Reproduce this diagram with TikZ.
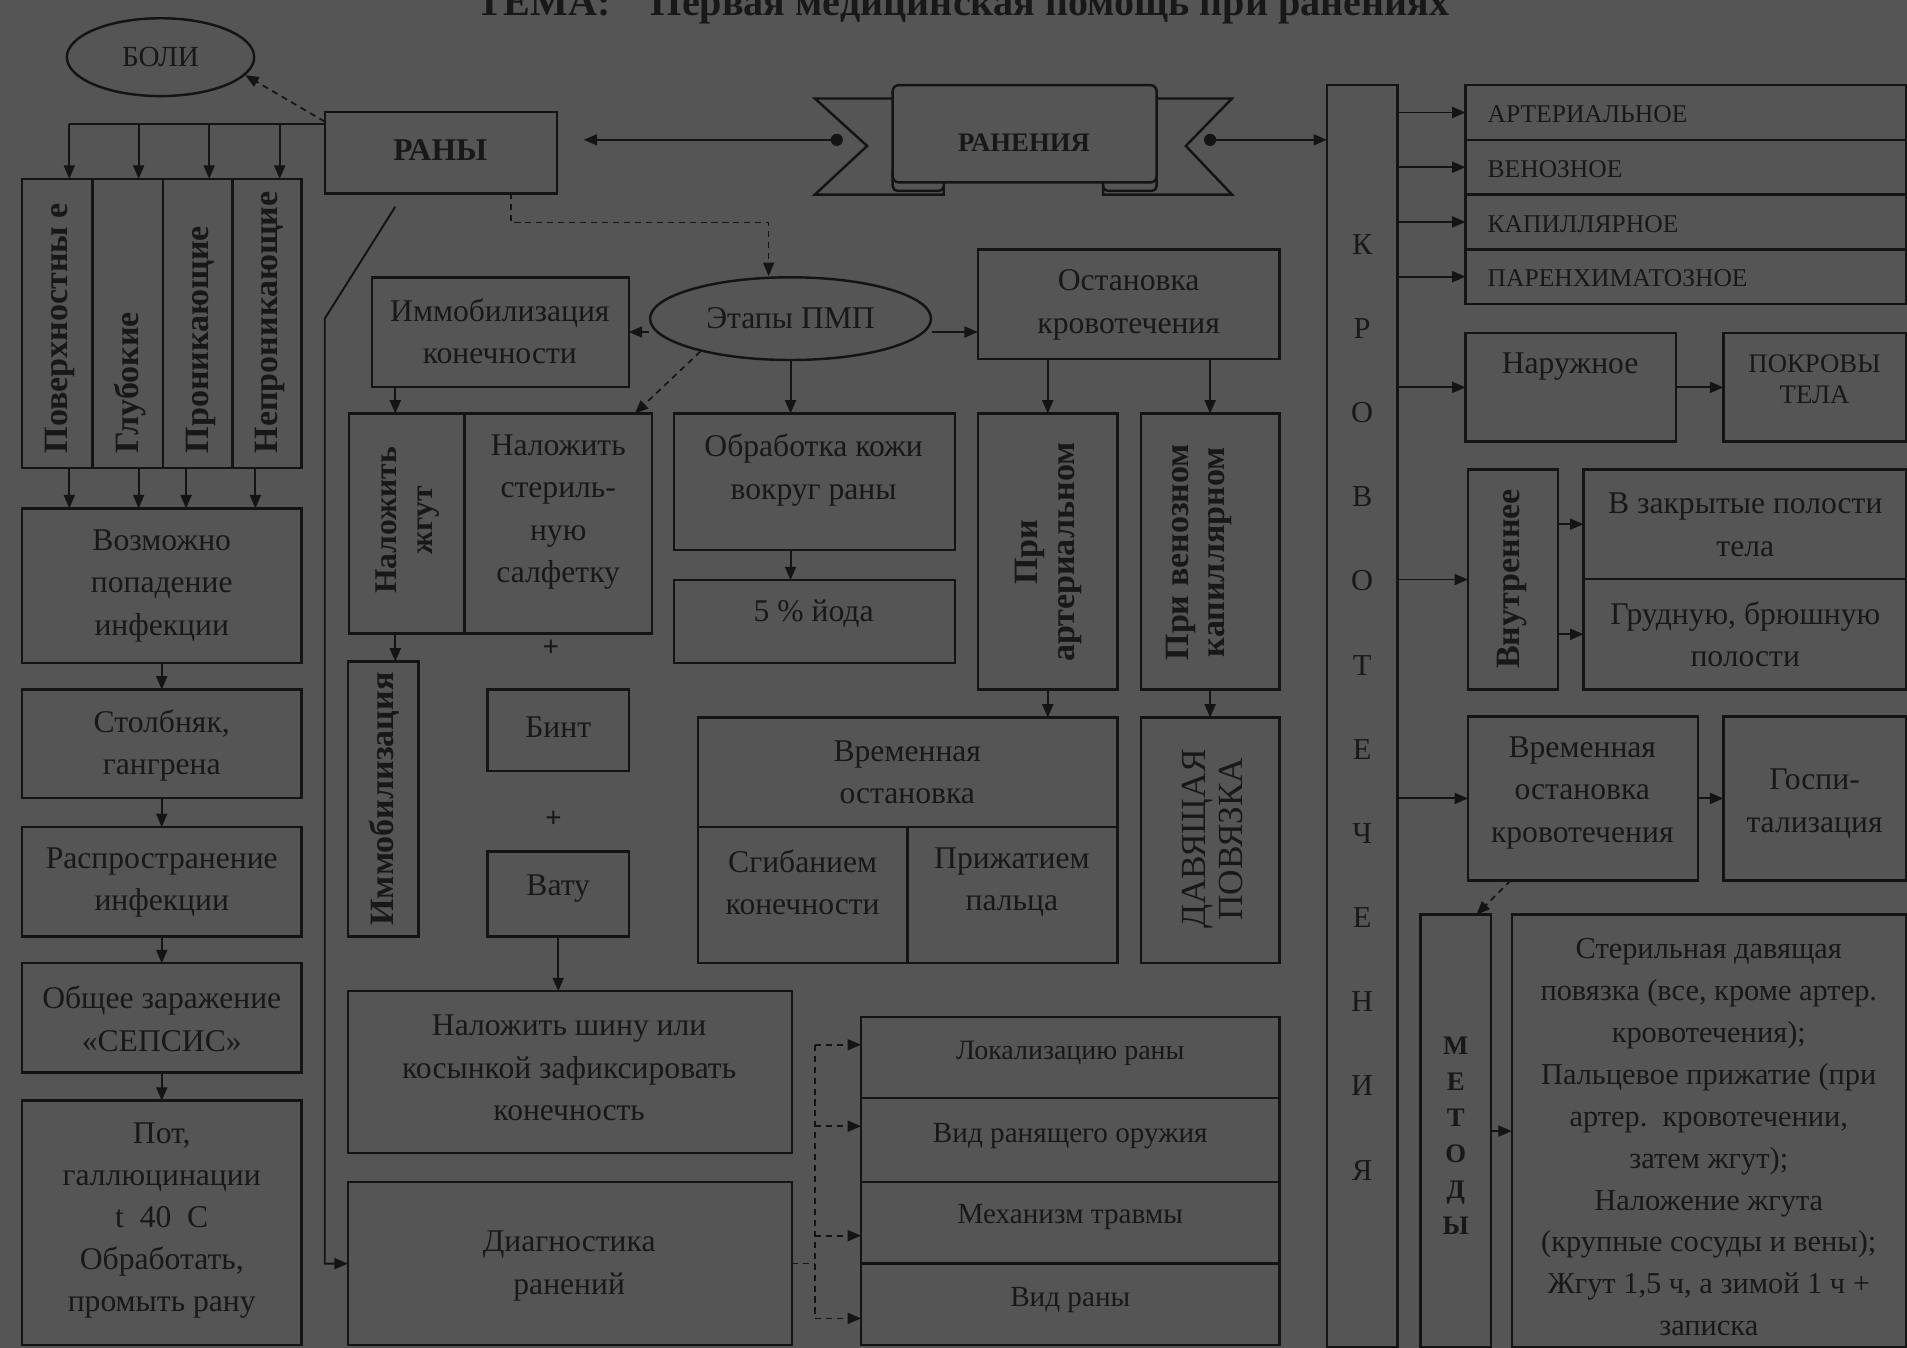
\documentclass[tikz,border=0pt]{standalone}
\usepackage{fontspec}
\setmainfont{Liberation Serif}
\usetikzlibrary{arrows.meta,shapes.geometric,fit}
\definecolor{bgc}{HTML}{555555}
\definecolor{lnc}{HTML}{141414}
\definecolor{txc}{HTML}{181818}
\newcommand{\fs}[2]{\fontsize{#1}{#2}\selectfont}
\newcommand{\bx}[5]{\node[box,fit={(#2,#3)(#4,#5)}] (#1) {};}
\newcommand{\mytext}[4][]{\node[txt,#1] (#2) at (#3) {#4};}
\tikzset{
  box/.style={draw=lnc, line width=2pt, inner sep=0pt, outer sep=0pt},
  txt/.style={text=txc, font=\fs{26}{35}, align=center, inner sep=0pt},
  rot/.style={rotate=90, font=\bfseries\fs{28}{30}},
  arr/.style={draw=lnc, line width=1.6pt, -{Triangle[length=11pt,width=9pt]}},
  ln/.style={draw=lnc, line width=1.6pt},
  dsh/.style={draw=lnc, line width=1.4pt, dash pattern=on 5pt off 4pt},
  darr/.style={dsh, -{Triangle[length=11pt,width=9pt]}},
}
\begin{document}
\begin{tikzpicture}[x=1pt,y=-1pt]
\fill[bgc] (0,0) rectangle (1568,1108);
\useasboundingbox (0,0) rectangle (1568,1108);

% title
\node[txt, font=\bfseries\fs{33}{38}, anchor=base] (title) at (792,13) {ТЕМА:\quad Первая медицинская помощь при ранениях};

% ---------- left part ----------
\node[draw=lnc, line width=2pt, ellipse, minimum width=154pt, minimum height=64pt, inner sep=0pt, text=txc, font=\fs{24}{28}] (boli) at (132,47) {БОЛИ};
\bx{rany}{267}{92}{458}{159}
\mytext[font=\bfseries\fs{26}{30}]{t-rany}{362,123}{РАНЫ}

\bx{c1}{18}{147}{76}{385}
\bx{c2}{76}{147}{134}{385}
\bx{c3}{134}{147}{191}{385}
\bx{c4}{191}{147}{248}{385}
\mytext[rot, anchor=west]{t-c1}{49,373}{Поверхностны е}
\mytext[rot, anchor=west]{t-c2}{107,373}{Глубокие}
\mytext[rot, anchor=west]{t-c3}{165,373}{Проникающие}
\mytext[rot, anchor=west]{t-c4}{222,373}{Непроникающие}

\bx{voz}{18}{418}{248}{545}
\bx{stolb}{18}{567}{248}{656}
\bx{rasp}{18}{680}{248}{770}
\bx{seps}{18}{792}{248}{882}
\bx{pot}{18}{905}{248}{1106}
\mytext{t-voz}{133,481.5}{Возможно\\попадение\\инфекции}
\mytext{t-stolb}{133,613}{Столбняк,\\гангрена}
\mytext{t-rasp}{133,725.5}{Распространение\\инфекции}
\mytext{t-seps}{133,837.5}{Общее заражение\\«СЕПСИС»}
\mytext[font=\fs{26}{34.5}]{t-pot}{133,1003.5}{Пот,\\галлюцинации\\t~~40~~С\\Обработать,\\промыть рану}

% connectors rany -> columns
\coordinate (hl) at ([yshift=-10pt]rany.north west);
\coordinate (a1) at ([xshift=39pt]c1.north west);
\coordinate (a2) at ([xshift=38pt]c2.north west);
\coordinate (a3) at ([xshift=38pt]c3.north west);
\coordinate (a4) at ([xshift=39pt]c4.north west);
\draw[ln] (hl) -- (a1 |- hl);
\foreach \a in {a1,a2,a3,a4} \draw[arr] (\a |- hl) -- (\a);
\draw[darr] ([yshift=-8pt]rany.north west) -- (boli.-12);

\draw[arr] ([xshift=39pt]c1.south west) -- ([xshift=39pt]voz.north west);
\draw[arr] ([xshift=38pt]c2.south west) -- ([xshift=96pt]voz.north west);
\draw[arr] ([xshift=19pt]c3.south west) -- ([xshift=135pt]voz.north west);
\draw[arr] ([xshift=19pt]c4.south west) -- ([xshift=192pt]voz.north west);
\draw[arr] (voz.south) -- (stolb.north);
\draw[arr] (stolb.south) -- (rasp.north);
\draw[arr] (rasp.south) -- (seps.north);
\draw[arr] (seps.south) -- (pot.north);

% ---------- middle part ----------
\node[draw=lnc, line width=2pt, ellipse, minimum width=231pt, minimum height=68pt, inner sep=0pt, text=txc, font=\fs{26}{30}] (etapy) at (650,262) {Этапы ПМП};
\bx{imm}{306}{228}{517}{318}
\mytext{t-imm}{411,272.5}{Иммобилизация\\конечности}
\bx{ost}{804}{205}{1052}{295}
\mytext{t-ost}{928,250.5}{Остановка\\кровотечения}

\draw[darr] ([xshift=57.5pt]rany.south) -- ([xshift=57.5pt,yshift=-24pt]rany.south) -| ([xshift=-18pt]etapy.north);
\draw[arr] (etapy.west |- imm.east) -- (imm.east);
\coordinate (oa) at ([yshift=-23pt]ost.west);
\draw[arr] (etapy.east |- oa) -- (oa);

\bx{zh}{287}{340}{382}{521}
\bx{salf}{382}{340}{536}{521}
\mytext[rot, font=\bfseries\fs{26}{30}]{t-zh}{335,428}{Наложить\\жгут}
\mytext[font=\fs{26}{34.7}]{t-salf}{459,421}{Наложить\\стериль-\\ную\\салфетку}
\draw[arr] ([xshift=19pt]imm.south west) -- ([xshift=38pt]zh.north west);
\draw[darr] (etapy.200) -- ([xshift=-14pt]salf.north east);

\bx{immr}{286}{544}{344}{770}
\mytext[rot]{t-immr}{316,657}{Иммобилизация}
\draw[arr] ([xshift=38pt]zh.south west) -- ([xshift=39pt]immr.north west);

\mytext[font=\bfseries\fs{24}{28}]{t-plus1}{453,533}{+}
\bx{bint}{401}{567}{517}{634}
\mytext{t-bint}{459,598}{Бинт}
\mytext[font=\bfseries\fs{24}{28}]{t-plus2}{455,674}{+}
\bx{vatu}{401}{700}{517}{770}
\mytext{t-vatu}{459,731}{Вату}

\bx{shina}{286}{815}{651}{948}
\mytext{t-shina}{468,878}{Наложить шину или\\косынкой зафиксировать\\конечность}
\draw[arr] (vatu.south) -- (vatu.south |- shina.north);

\bx{diag}{286}{972}{651}{1106}
\mytext{t-diag}{468,1041}{Диагностика\\ранений}
\draw[arr] ([xshift=58pt,yshift=-11pt]rany.south west) -- ([yshift=-103pt]rany.south west) |- (diag.west);

\bx{obr}{554}{340}{785}{452}
\mytext{t-obr}{669,386.5}{Обработка кожи\\вокруг раны}
\bx{yod}{554}{477}{785}{545}
\mytext{t-yod}{669,505}{5 \% йода}
\draw[arr] (etapy.south) -- (etapy.south |- obr.north);
\draw[arr] (etapy.south |- obr.south) -- (etapy.south |- yod.north);

\bx{art}{804}{340}{919}{567}
\mytext[rot]{t-art}{862,454}{При\\артериальном}
\bx{ven}{938}{340}{1052}{567}
\mytext[rot]{t-ven}{986,454}{При венозном\\капиллярном}
\draw[arr] (art.north |- ost.south) -- (art.north);
\draw[arr] (ven.north |- ost.south) -- (ven.north);

\bx{vtop}{574}{590}{919}{680}
\bx{vl}{574}{680}{746}{792}
\bx{vr}{746}{680}{919}{792}
\mytext{t-vtop}{746,635}{Временная\\остановка}
\mytext{t-vl}{660,725.5}{Сгибанием\\конечности}
\mytext{t-vr}{832,725.5}{Прижатием\\пальца}
\draw[arr] (art.south) -- (art.south |- vtop.north);

\bx{davy}{938}{590}{1052}{792}
\mytext[rot, font=\fs{29}{30}]{t-davy}{997,690}{ДАВЯЩАЯ\\ПОВЯЗКА}
\draw[arr] (ven.south) -- (davy.north);

\bx{lok}{708}{836}{1052}{903}
\bx{vid}{708}{903}{1052}{972}
\bx{mex}{708}{972}{1052}{1039}
\bx{vra}{708}{1039}{1052}{1106}
\mytext[font=\fs{23}{28}]{t-lok}{880,866}{Локализацию раны}
\mytext[font=\fs{24}{28}]{t-vid}{880,934}{Вид ранящего оружия}
\mytext[font=\fs{24}{28}]{t-mex}{880,1001}{Механизм травмы}
\mytext[font=\fs{24}{28}]{t-vra}{880,1069}{Вид раны}
\coordinate (dv) at (670,1039);
\coordinate (l1) at ([yshift=10.5pt]lok.west);
\coordinate (l2) at ([yshift=11.5pt]vid.west);
\coordinate (l3) at ([yshift=-10.5pt]mex.west);
\coordinate (l4) at ([yshift=-11.5pt]vra.west);
\draw[dsh] (diag.east) -- (dv);
\draw[dsh] (dv |- l1) -- (dv |- l4);
\foreach \l in {l1,l2,l3,l4} \draw[darr] (dv |- \l) -- (\l);

% ---------- ribbon ----------
\draw[lnc, line width=2pt, fill=bgc, line join=miter] (745,81) -- (670,81) -- (713,120) -- (670,160) -- (776,160) -- (776,148);
\draw[lnc, line width=2pt, fill=bgc, line join=miter] (940,81) -- (1013,81) -- (975,120) -- (1013,160) -- (907,160) -- (907,148);
\draw[lnc, line width=2pt, fill=bgc, rounded corners=4pt] (734,140) -- (734,157) -- (776,157) -- (776,140);
\draw[lnc, line width=2pt, fill=bgc, rounded corners=4pt] (951,140) -- (951,157) -- (907,157) -- (907,140);
\node[box, rounded corners=5pt, fill=bgc, fit={(734,70)(951,150)}] (ran) {};
\mytext[font=\bfseries\fs{22}{26}]{t-ran}{842,117}{РАНЕНИЯ}
\coordinate (dl) at (688,115);
\coordinate (dr) at (995,115);
\fill[lnc] (dl) circle (5pt);
\fill[lnc] (dr) circle (5pt);
\draw[arr] (dl) -- ([xshift=22pt,yshift=10.5pt]rany.east);

% ---------- right part ----------
\bx{krov}{1091}{70}{1149}{1108}
\mytext[font=\fs{25}{69.2}]{t-krov}{1120,581.5}{К\\Р\\О\\В\\О\\Т\\Е\\Ч\\Е\\Н\\И\\Я}
\draw[arr] (dr) -- (krov.west |- dr);

\bx{b1}{1205}{70}{1567}{115}
\bx{b2}{1205}{115}{1567}{160}
\bx{b3}{1205}{160}{1567}{205}
\bx{b4}{1205}{205}{1567}{250}
\mytext[anchor=west, font=\fs{21}{26}]{t-b1}{1223,94}{АРТЕРИАЛЬНОЕ}
\mytext[anchor=west, font=\fs{21}{26}]{t-b2}{1223,139}{ВЕНОЗНОЕ}
\mytext[anchor=west, font=\fs{21}{26}]{t-b3}{1223,184}{КАПИЛЛЯРНОЕ}
\mytext[anchor=west, font=\fs{21}{26}]{t-b4}{1223,229}{ПАРЕНХИМАТОЗНОЕ}
\foreach \b in {b1,b2,b3,b4} \draw[arr] (krov.east |- \b.west) -- (\b.west);

\bx{naru}{1205}{274}{1378}{363}
\mytext{t-naru}{1291,301}{Наружное}
\bx{pokr}{1417}{274}{1567}{363}
\mytext[font=\fs{22}{25}]{t-pokr}{1492,312}{ПОКРОВЫ\\ТЕЛА}
\draw[arr] (krov.east |- naru.west) -- (naru.west);
\draw[arr] (naru.east) -- (pokr.west);

\bx{vnut}{1207}{386}{1281}{567}
\mytext[rot]{t-vnut}{1243,476}{Внутреннее}
\bx{zakr}{1302}{386}{1567}{476}
\bx{grud}{1302}{476}{1567}{567}
\mytext{t-zakr}{1435,431.5}{В закрытые полости\\тела}
\mytext{t-grud}{1435,521.5}{Грудную, брюшную\\полости}
\draw[arr] (krov.east |- vnut.west) -- (vnut.west);
\draw[arr] (vnut.east |- zakr.west) -- (zakr.west);
\draw[arr] (vnut.east |- grud.west) -- (grud.west);

\bx{vremr}{1207}{589}{1396}{724}
\mytext{t-vremr}{1301,652}{Временная\\остановка\\кровотечения}
\bx{gosp}{1417}{589}{1567}{724}
\mytext{t-gosp}{1492,661}{Госпи-\\тализация}
\draw[arr] (krov.east |- vremr.west) -- (vremr.west);
\draw[arr] (vremr.east) -- (gosp.west);

\bx{metod}{1168}{752}{1226}{1108}
\mytext[font=\bfseries\fs{22}{29.6}]{t-metod}{1197,934}{М\\Е\\Т\\О\\Д\\Ы}
\draw[darr] ([xshift=35pt]vremr.south west) -- ([xshift=46pt]metod.north west);
\bx{big}{1243}{752}{1567}{1108}
\mytext[font=\fs{25}{34.5}]{t-big}{1405,935}{Стерильная давящая\\повязка (все, кроме артер.\\кровотечения);\\Пальцевое прижатие (при\\артер.~~кровотечении,\\затем жгут);\\Наложение жгута\\(крупные сосуды и вены);\\Жгут 1,5 ч, а зимой 1 ч +\\записка}
\draw[arr] (metod.east) -- (big.west);
\end{tikzpicture}
\end{document}
